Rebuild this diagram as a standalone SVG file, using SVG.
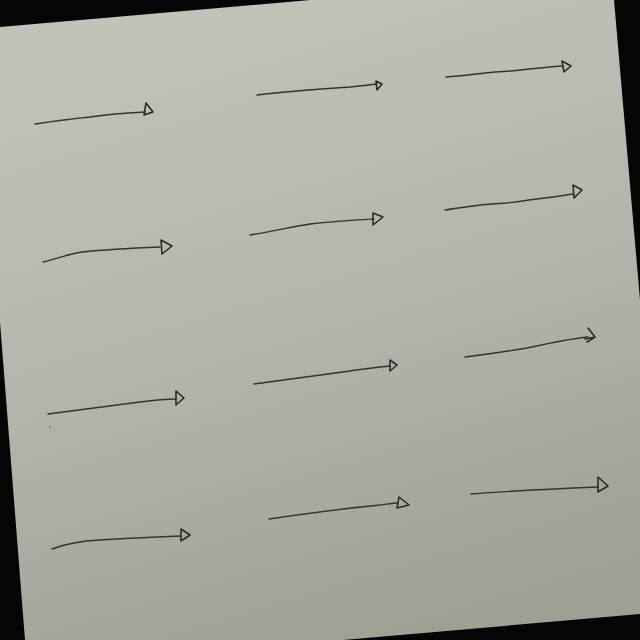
<svg xmlns="http://www.w3.org/2000/svg" width="640" height="640" viewBox="0 0 640 640">
<defs>
<linearGradient id="paper" x1="0.3" y1="0" x2="0.6" y2="1">
<stop offset="0" stop-color="#c1c2b8"/>
<stop offset="0.5" stop-color="#b5b6ab"/>
<stop offset="1" stop-color="#9fa094"/>
</linearGradient>
<style>
.ln{fill:none;stroke:#333430;stroke-width:1.4;stroke-linecap:round;stroke-linejoin:round}
.hd{fill:none;stroke:#2a2b27;stroke-width:1.6;stroke-linejoin:round;stroke-linecap:round}
</style>
</defs>
<rect width="640" height="640" fill="#050505"/>
<polygon points="0,27 310,0 614,0 640,300 640,614 343,640 25,640 0,322" fill="url(#paper)"/>
<circle cx="50" cy="427" r="0.9" fill="#6e6f68"/>
<g id="connectors">
<g id="a1"><path class="ln" d="M35,124 C55,121 70,119 90,117 C110,114 125,113 145,112"/><path class="hd" d="M146,103 L153,112 L144,115 Z"/></g>
<g id="a2"><path class="ln" d="M257,95 C290,91 320,89 350,87 C360,86 370,85 377,84"/><path class="hd" d="M376,81 L382,84 L377,90 Z"/></g>
<g id="a3"><path class="ln" d="M446,77 C470,75 490,72 510,71 C530,69 548,67 562,66"/><path class="hd" d="M562,61 L571,66 L564,72 Z"/></g>
<g id="b1"><path class="ln" d="M43,262 C60,258 68,254 82,252 C110,249 135,248 160,247"/><path class="hd" d="M161,240 L172,246 L162,254 Z"/></g>
<g id="b2"><path class="ln" d="M250,235 C275,231 290,227 310,224 C335,221 355,220 374,219"/><path class="hd" d="M373,213 L383,217 L373,225 L373,213"/></g>
<g id="b3"><path class="ln" d="M445,210 C465,207 480,204 507,203 C530,200 553,197 573,194"/><path class="hd" d="M573,185 L582,190 L574,198 Z"/></g>
<g id="c1"><path class="ln" d="M48,414 C80,410 110,406 140,402 C155,400 165,399 176,399"/><path class="hd" d="M176,391 L184,398 L176,405 Z"/></g>
<g id="c2"><path class="ln" d="M254,384 C290,379 320,375 350,371 C365,369 378,367 390,366"/><path class="hd" d="M390,360 L397,365 L390,371 Z"/></g>
<g id="c3"><path class="ln" d="M465,357 C490,354 510,351 527,348 C550,343 568,339 588,337"/><path class="hd" d="M588,328 L595,337 L587,342 M585,339 L595,337"/></g>
<g id="d1"><path class="ln" d="M52,549 C65,544 80,541 100,540 C130,538 155,537 181,536"/><path class="hd" d="M181,529 L190,535 L181,541 Z"/></g>
<g id="d2"><path class="ln" d="M269,519 C310,513 350,508 380,505 C388,504 393,503 398,503"/><path class="hd" d="M399,497 L409,505 L397,508 Z"/></g>
<g id="d3"><path class="ln" d="M471,494 C510,491 550,489 598,487"/><path class="hd" d="M598,477 L608,486 L598,492 Z"/></g>
</g>
</svg>
